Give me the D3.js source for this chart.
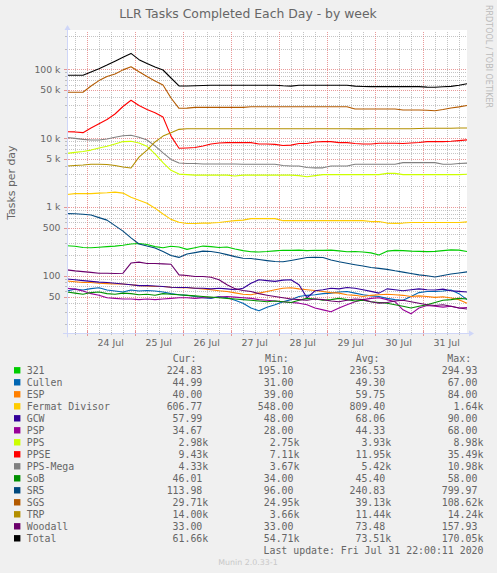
<!DOCTYPE html>
<html><head><meta charset="utf-8">
<script src="https://cdn.jsdelivr.net/npm/d3@7/dist/d3.min.js"></script>
<style>
html,body{margin:0;padding:0;background:#F0F0F0;}
svg{display:block;}
</style></head><body>
<svg id="c" width="497" height="573"></svg>
<script>
// ---------- data (4-hour samples) ----------
const seriesNames = ["321","Cullen","ESP","Fermat Divisor","GCW","PSP","PPS","PPSE","PPS-Mega","SoB","SR5","SGS","TRP","Woodall","Total"];
const seriesColors = ["#00CC00","#0066B3","#FF8000","#FFCC00","#330099","#990099","#CCFF00","#FF0000","#808080","#008F00","#00487D","#B35A00","#B38F00","#6B006B","#000000"];

const s321 = [273,268,258,255,260,265,270,278,290,295,285,265,255,268,262,242,255,270,265,258,262,245,232,223,222,225,230,235,234,236,232,235,234,236,230,223,225,222,215,200,228,234,232,228,226,224,226,232,238,236,225];
const sCullen = [60,64,62,65,67,62,60,58,62,60,61,60,58,55,53,52,50,48,47,50,48,44,40,34,31,35,38,42,45,50,52,53,55,56,58,59,56,53,51,50,47,45,44,50,57,59,59,60,62,55,45];
const sESP = [84,82,80,80,78,77,76,76,74,72,71,70,70,68,67,67,66,64.5,62.6,60.5,59,56.5,54,53,56,59,62.6,66,67,64.5,62.6,61,59,57,56,53,52,50,52,53,54,53,52,50,51,50,48.5,49.5,47.5,44.8,40];
const sFermat = [1520,1560,1560,1560,1590,1610,1640,1590,1380,1250,1130,960,790,660,598,574,574,583,583,594,613,632,644,677,677,677,677,632,632,632,632,632,632,632,632,632,632,632,613,613,583,577,583,594,594,594,594,594,594,594,607];
const sGCW = [90,87.5,85,83,81,80,78,76,74,72,72,71,70,68,67.5,67.5,66,66,64.5,66,64.5,62.6,66,78,87.5,85,83,86.5,87.5,74,48,60.5,62.6,66,64.5,67.5,66,62.6,59.3,56,64.5,62.6,60.5,62.6,64.5,62.6,62,64,60.5,59.3,58];
const sPSP = [66,64,60,55,52,48,47,46,46,45,46,45,46,47,48,48,47,48,48,49,50,49,48,47,45,44,43,42,41,40,38,34,32,30,34,38,42,45,47,48,45,42,32,28,34,37,36,35,36,34,34.67];
const sPPS = [6000,6200,6400,6700,7200,7600,8200,8900,8980,8500,7600,5900,4400,3400,3000,2950,2900,2900,2900,2900,2900,2810,2900,2900,2900,2900,2900,2900,2900,2850,2750,2850,2950,2950,2950,2950,2950,2950,2950,2950,3070,3070,2950,2950,2950,2950,2950,2950,2950,2950,2980];
const sPPSE = [12400,12300,12000,14000,16200,18600,22400,28800,35490,29800,26000,23400,20300,10700,7110,7200,7300,7700,8200,8500,8600,8600,8600,8600,8200,8200,8100,7800,7900,8350,8350,8800,8900,8900,8600,8600,8350,8200,8200,8400,8400,8400,8350,8500,8650,8900,8900,8900,9000,9200,9430];
const sPPSMega = [10200,9900,9600,9400,9400,9700,10300,10800,10980,10300,9400,7700,6100,4900,4350,4270,4270,4200,4200,4200,4200,4200,4170,4170,4170,4170,4170,4000,3940,3940,3750,3700,3700,3940,3940,3940,4170,4170,4170,4170,4170,4170,4400,4400,4400,4400,4400,4170,4170,4270,4330];
const sSoB = [58,56,54,57,58,55,54,56,55,53,54,52,55,54,53,52,51,50,49,48,47,46,45,44,43,42,43,42,41,44,47,46,44,45,47,45,43,44,42,41,40,38,36,34,36,38,41,44,45,47,46];
const sSR5 = [800,795,785,762,700,644,535,445,355,290,270,253,225,197,185,207,217,228,225,216,203,190,180,178,172,166,161,160,167,175,184,186,184,170,160,152,145,139,132,128,124,118,113,108,103,100,96,101,106,110,114];
const sSGS = [46400,46400,46400,57200,68500,78500,85400,98000,108600,92000,78600,67500,59000,38300,27100,27300,28000,28000,28000,28000,28000,28000,28000,28600,28600,28600,28600,28600,28600,28600,28600,28600,28600,28600,28600,28600,26500,26500,26500,26500,26500,26500,25600,25600,25600,25400,24950,26000,27400,28400,29700];
const sTRP = [3940,4000,4070,4170,4170,4140,4000,3800,3680,5300,6700,8800,10700,12000,13400,13700,13700,13700,13700,13700,13700,13700,13700,13700,13700,13700,13700,13700,13700,13700,13700,13700,13700,13700,13700,13700,13600,13600,13700,13700,13700,13700,13700,13700,13800,13900,13900,13900,13900,14000,14000];
const sWoodall = [122,118,115,112,109,109,108,109,153,158,151,151,149,147,103,101,97.5,97.5,95,87.5,74,65,61,59,55,52,50,48,46,45,44,46,45,43,42,44,46,45,42,40,41,43,44,42,40,38,37,38,36,34,33];
const sTotal = [81800,81800,81800,91300,102000,115000,131000,150000,170000,138000,121000,108000,97600,74700,57200,57200,57500,58000,58700,58700,58700,58700,58700,58700,58700,58700,58700,57500,57000,58500,58500,58500,58500,58500,58500,58500,57000,56300,56000,56000,56000,56000,56000,56000,56000,55000,54800,55800,56500,58500,61700];

const seriesValues = [s321,sCullen,sESP,sFermat,sGCW,sPSP,sPPS,sPPSE,sPPSMega,sSoB,sSR5,sSGS,sTRP,sWoodall,sTotal];

const curLabels = ["224.83","44.99","40.00","606.77","57.99","34.67","2.98k","9.43k","4.33k","46.01","113.98","29.71k","14.00k","33.00","61.66k"];
const minLabels = ["195.10","31.00","39.00","548.00","48.00","28.00","2.75k","7.11k","3.67k","34.00","96.00","24.95k","3.66k","33.00","54.71k"];
const avgLabels = ["236.53","49.30","59.75","809.40","68.06","44.33","3.93k","11.95k","5.42k","45.40","240.83","39.13k","11.44k","73.48","73.51k"];
const maxLabels = ["294.93","67.00","84.00","1.64k","90.00","68.00","8.98k","35.49k","10.98k","58.00","799.97","108.62k","14.24k","157.93","170.05k"];

const yTickValues = [50,100,500,1000,5000,10000,50000,100000];
const yTickLabels = ["50","100","500","1 k","5 k","10 k","50 k","100 k"];

const titleText = "LLR Tasks Completed Each Day - by week";
const yAxisTitle = "Tasks per day";
const lastUpdate = "Last update: Fri Jul 31 22:00:11 2020";

// ---------- layout ----------
const svg = d3.select("#c");
const W = 497, H = 573;
const L = 67, R = 467, T = 32, B = 333.3;
const HOUR = 3600e3;
const tStart = new Date(2020,6,23,14,10);
const tEnd = new Date(tStart.getTime() + 200*HOUR);
const times = sTotal.map((_,i)=> new Date(tStart.getTime() + i*4*HOUR));

const x = d3.scaleTime().domain([tStart,tEnd]).range([L,R]);
const y = d3.scaleLog().domain([14.6,348000]).range([B,T]);

const FONT = "#666666";
const AXIS = "#CFD6F8";

svg.append("rect").attr("width",W).attr("height",H).attr("fill","#F0F0F0");
svg.append("rect").attr("x",L).attr("y",T-2).attr("width",R-L).attr("height",B-T+2).attr("fill","#FFFFFF");

// grid
const gGrid = svg.append("g").attr("shape-rendering","crispEdges");
const minorY = [], majorY = [];
for (let e=1;e<=5;e++){
  const p = Math.pow(10,e);
  [2,3,4,6,7,8,9].forEach(m=>{ const v=m*p; if (v>y.domain()[0] && v<y.domain()[1]) minorY.push(v); });
  [1,5].forEach(m=>{ const v=m*p; if (v>y.domain()[0] && v<y.domain()[1]) majorY.push(v); });
}
const minorX = d3.timeHour.every(6).range(tStart,tEnd).filter(d=>d.getHours()!==0);
const majorX = d3.timeDay.range(tStart,tEnd);

const gridMinor = "rgba(150,150,150,0.55)";
const gridMajor = "rgba(226,120,120,0.75)";
gGrid.selectAll(".hy").data(minorY).join("line")
  .attr("x1",L).attr("x2",R).attr("y1",d=>Math.round(y(d))+0.5).attr("y2",d=>Math.round(y(d))+0.5)
  .attr("stroke",gridMinor).attr("stroke-width",1).attr("stroke-dasharray","1,1");
gGrid.selectAll(".vx").data(minorX).join("line")
  .attr("y1",T).attr("y2",B).attr("x1",d=>Math.round(x(d))+0.5).attr("x2",d=>Math.round(x(d))+0.5)
  .attr("stroke",gridMinor).attr("stroke-width",1).attr("stroke-dasharray","1,1");
gGrid.selectAll(".hY").data(majorY).join("line")
  .attr("x1",L).attr("x2",R).attr("y1",d=>Math.round(y(d))+0.5).attr("y2",d=>Math.round(y(d))+0.5)
  .attr("stroke",gridMajor).attr("stroke-width",1).attr("stroke-dasharray","1,1");
gGrid.selectAll(".vX").data(majorX).join("line")
  .attr("y1",T).attr("y2",B).attr("x1",d=>Math.round(x(d))+0.5).attr("x2",d=>Math.round(x(d))+0.5)
  .attr("stroke",gridMajor).attr("stroke-width",1).attr("stroke-dasharray","1,1");

// small ticks on axes
gGrid.selectAll(".tm").data(minorX).join("line")
  .attr("x1",d=>Math.round(x(d))+0.5).attr("x2",d=>Math.round(x(d))+0.5).attr("y1",B-1).attr("y2",B+2)
  .attr("stroke",gridMinor);
gGrid.selectAll(".tM").data(majorX).join("line")
  .attr("x1",d=>Math.round(x(d))+0.5).attr("x2",d=>Math.round(x(d))+0.5).attr("y1",B-2).attr("y2",B+3)
  .attr("stroke",gridMajor);
gGrid.selectAll(".ym").data(minorY).join("line")
  .attr("y1",d=>Math.round(y(d))+0.5).attr("y2",d=>Math.round(y(d))+0.5).attr("x1",L-2).attr("x2",L+1)
  .attr("stroke",gridMinor);
gGrid.selectAll(".yM").data(majorY).join("line")
  .attr("y1",d=>Math.round(y(d))+0.5).attr("y2",d=>Math.round(y(d))+0.5).attr("x1",L-3).attr("x2",L+2)
  .attr("stroke",gridMajor);

// series lines
const line = d3.line().x((d,i)=>x(times[i])).y(d=>y(d));
const gLines = svg.append("g");
seriesValues.forEach((vals,k)=>{
  gLines.append("path").datum(vals).attr("d",line)
    .attr("fill","none").attr("stroke",seriesColors[k]).attr("stroke-width",1.1)
    .attr("stroke-linejoin","round");
});

// axes
const gAx = svg.append("g");
gAx.append("line").attr("x1",L-4).attr("x2",R+2).attr("y1",Math.round(B)+0.5).attr("y2",Math.round(B)+0.5).attr("stroke",AXIS);
gAx.append("line").attr("x1",L+0.5).attr("x2",L+0.5).attr("y1",B+4).attr("y2",T-3).attr("stroke",AXIS);
gAx.append("path").attr("d",`M${L-2.5},${T-2} L${L+3.5},${T-2} L${L+0.5},${T-7} Z`).attr("fill",AXIS);
gAx.append("path").attr("d",`M${R+2},${Math.round(B)-2.5} L${R+2},${Math.round(B)+3.5} L${R+7},${Math.round(B)+0.5} Z`).attr("fill",AXIS);

// y tick labels
svg.append("g").selectAll("text").data(yTickValues).join("text")
  .attr("x",60.5).attr("y",d=>y(d)+3.4).attr("text-anchor","end")
  .attr("font-family","DejaVu Sans").attr("font-size","9.3px").attr("fill",FONT)
  .text((d,i)=>yTickLabels[i]);

// x tick labels at noon
const noonTicks = d3.timeDay.range(tStart,tEnd).map(d=>new Date(d.getTime()+12*HOUR)).filter(d=>d<tEnd);
const fmt = d3.timeFormat("%d %b");
svg.append("g").selectAll("text").data(noonTicks).join("text")
  .attr("x",d=>x(d)).attr("y",345.6).attr("text-anchor","middle")
  .attr("font-family","DejaVu Sans").attr("font-size","9.4px").attr("fill",FONT)
  .text(d=>fmt(d));

// title
svg.append("text").attr("x",248).attr("y",18.3).attr("text-anchor","middle")
  .attr("font-family","DejaVu Sans").attr("font-size","12.4px").attr("fill",FONT).text(titleText);

// y axis title
svg.append("text").attr("transform",`translate(14.8,${(T+B)/2}) rotate(-90)`).attr("text-anchor","middle")
  .attr("font-family","DejaVu Sans").attr("font-size","10.9px").attr("fill",FONT).text(yAxisTitle);

// rrdtool credit
svg.append("text").attr("transform","translate(485.5,56.5) rotate(90)").attr("text-anchor","middle")
  .attr("font-family","DejaVu Sans").attr("font-size","8px").attr("fill","#BBBBBB").text("RRDTOOL / TOBI OETIKER");

// legend
const mono = "DejaVu Sans Mono";
const LFS = "9.9px";
const gLeg = svg.append("g").attr("font-family",mono).attr("font-size",LFS).attr("fill",FONT);
const headers = [["Cur:",172.7],["Min:",265],["Avg:",355.7],["Max:",447.3]];
headers.forEach(h=>gLeg.append("text").attr("x",h[1]).attr("y",361.8).text(h[0]));
const colEnds = [202.3,293.5,385.2,477.4];
const colData = [curLabels,minLabels,avgLabels,maxLabels];
seriesNames.forEach((name,k)=>{
  const cy = 370.3 + 12.0*k;
  gLeg.append("rect").attr("x",14).attr("y",cy-3.2).attr("width",6.4).attr("height",6.4).attr("fill",seriesColors[k]);
  gLeg.append("text").attr("x",26.7).attr("y",cy+3.6).text(name);
  colData.forEach((arr,c)=>{
    const s = arr[k];
    const hasK = s.endsWith("k");
    const num = hasK ? s.slice(0,-1) : s;
    gLeg.append("text").attr("x",colEnds[c]).attr("y",cy+3.6).attr("text-anchor","end").text(num);
    if (hasK) gLeg.append("text").attr("x",colEnds[c]).attr("y",cy+3.6).text("k");
  });
});
gLeg.append("text").attr("x",483.5).attr("y",554.3).attr("text-anchor","end").text(lastUpdate);

svg.append("text").attr("x",248).attr("y",565.2).attr("text-anchor","middle")
  .attr("font-family","DejaVu Sans").attr("font-size","7.9px").attr("fill","#C8C8C8").text("Munin 2.0.33-1");
</script>
</body></html>
